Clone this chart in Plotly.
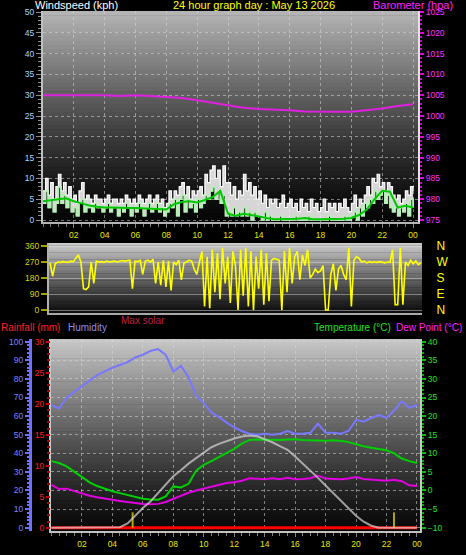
import plotly.graph_objects as go

# ---------------- data ----------------
SAMPLE_10MIN = [i / 6 for i in range(145)]   # sample times (hours), 10-minute log
SAMPLE_30MIN = [i / 2 for i in range(49)]    # sample times (hours), 30-minute log
BARO_HOURS = list(range(25))

hour_ticks = [2, 4, 6, 8, 10, 12, 14, 16, 18, 20, 22, 24]
hour_labels = ["02", "04", "06", "08", "10", "12", "14", "16", "18", "20", "22", "00"]

wind_gust = [
    7, 10, 6, 9, 5, 8,
    11, 7, 9, 6, 8, 5,
    6, 4, 7, 9, 5, 6,
    5, 4, 6, 5, 5, 4,
    5, 6, 4, 5, 5, 4,
    5, 4, 6, 5, 4, 5,
    4, 6, 5, 4, 5, 6,
    4, 5, 6, 4, 5, 3,
    4, 7, 5, 7, 6, 8,
    9, 6, 8, 5, 7, 6,
    7, 8, 6, 11, 9, 12,
    13, 10, 12, 8, 13, 9,
    9, 6, 8, 5, 7, 6,
    11, 7, 9, 6, 8, 5,
    7, 4, 6, 3, 5, 4,
    5, 3, 4, 6, 3, 4,
    5, 3, 4, 2, 5, 3,
    4, 2, 5, 3, 4, 2,
    3, 5, 2, 4, 3, 4,
    2, 4, 3, 5, 3, 2,
    4, 6, 3, 5, 4, 6,
    8, 6, 10, 9, 11, 8,
    9, 7, 9, 8, 6, 5,
    6, 4, 5, 7, 6, 8,
    7,
]

wind_speed = [
    4, 7, 3, 5, 2, 4,
    8, 4, 6, 3, 5, 2,
    3, 1, 4, 5, 2, 3,
    3, 2, 4, 3, 3, 2,
    3, 4, 2, 3, 3, 1,
    3, 2, 4, 3, 1, 3,
    2, 4, 3, 1, 3, 4,
    2, 3, 4, 2, 3, 1,
    2, 4, 3, 5, 1, 5,
    6, 2, 5, 3, 4, 2,
    5, 3, 4, 6, 5, 7,
    8, 5, 7, 4, 6, 1,
    2, 1, 3, 1, 2, 1,
    3, 1, 2, 0, 2, 1,
    1, 0, 2, 0, 1, 0,
    0, 0, 1, 0, 0, 0,
    0, 0, 1, 0, 0, 0,
    0, 1, 0, 0, 0, 0,
    0, 0, 0, 1, 0, 0,
    0, 0, 0, 1, 0, 0,
    1, 2, 0, 3, 1, 4,
    3, 5, 4, 7, 5, 6,
    7, 4, 6, 3, 2, 3,
    1, 3, 2, 4, 1, 5,
    3,
]

wind_avg = [4.5, 4.8, 5.0, 5.2, 4.5, 4.0, 3.5, 3.2, 3.0, 3.0,
            2.9, 2.9, 2.9, 2.8, 2.8, 2.6, 2.5, 3.8, 4.3, 4.5,
            4.2, 4.8, 5.5, 7.0, 1.5, 1.0, 1.5, 1.2, 0.8, 0.5,
            0.2, 0.2, 0.2, 0.3, 0.5, 0.2, 0.2, 0.2, 0.2, 0.3,
            0.5, 1.2, 2.5, 5.0, 7.0, 6.8, 3.0, 3.4, 3.0]

barometer = [1005.0, 1005.0, 1005.0, 1005.0, 1005.0, 1004.8, 1005.0, 1004.8,
             1004.6, 1004.3, 1003.8, 1003.2, 1002.6, 1002.0, 1001.7, 1001.6,
             1001.4, 1001.1, 1001.0, 1001.0, 1001.0, 1001.4, 1001.8, 1002.4, 1002.8]

wind_dir = [
    265, 190, 260, 270, 268, 272,
    270, 268, 275, 272, 290, 310,
    270, 120, 115, 130, 270, 150,
    275, 270, 272, 268, 275, 270,
    272, 275, 270, 273, 278, 275,
    276, 280, 120, 275, 272, 280,
    200, 275, 280, 270, 285, 150,
    270, 140, 280, 130, 275, 110,
    270, 255, 280, 170, 265, 270,
    280, 275, 230, 200, 270, 330,
    20, 300, 10, 340, 100, 320,
    60, 350, 150, 300, 40, 330,
    250, 0, 340, 80, 350, 20,
    330, 0, 300, 120, 340, 30,
    320, 50, 280, 290, 285, 280,
    0, 330, 100, 350, 150, 300,
    330, 170, 310, 250, 340, 180,
    200, 230, 210, 220, 250, 0,
    0, 200, 260, 110, 230, 250,
    200, 170, 350, 20, 280, 300,
    290, 270, 275, 265, 272, 268,
    270, 268, 272, 270, 265, 270,
    268, 340, 30, 30, 350, 30,
    270, 250, 280, 260, 275, 255,
    265,
]

humidity = [66, 64, 70, 73, 76, 79, 82, 84, 86, 87.5,
            89, 91.5, 93, 95, 96, 93, 84, 87, 81, 71,
            67, 62, 59.5, 56.5, 54, 52, 50.5, 50, 50.5, 50,
            50.5, 52, 50.5, 50.5, 51, 56, 51, 51, 50.5, 52,
            58, 57, 59, 60.5, 59, 63, 68, 64.5, 66]

temperature = [7.9, 7.4, 6.5, 5.0, 3.6, 2.2, 1.2, 0.4, -0.2, -0.7,
               -1.2, -1.7, -2.2, -2.4, -2.5, -1.6, 1.1, 0.8, 1.8, 5.3,
               6.9, 7.9, 9.0, 10.2, 11.2, 12.6, 13.6, 13.7, 13.6, 13.6,
               13.6, 13.7, 13.8, 13.6, 13.5, 13.3, 13.4, 13.5, 13.4, 13.0,
               12.4, 11.9, 11.5, 11.2, 10.8, 10.0, 8.6, 7.9, 7.4]

dew_point = [1.5, 0.4, 0.5, -0.2, -0.8, -1.4, -1.8, -2.2, -2.5, -2.8,
             -3.1, -3.4, -3.6, -3.7, -3.6, -3.1, -2.2, -1.4, -0.6, 0.0,
             0.5, 0.9, 1.5, 2.0, 2.2, 2.6, 3.3, 3.2, 3.0, 3.3,
             3.0, 3.4, 3.0, 3.1, 3.3, 4.0, 3.2, 3.1, 3.0, 3.2,
             3.6, 3.1, 3.0, 2.7, 2.6, 2.9, 2.5, 1.4, 1.2]

max_solar = [0, 0, 0, 0, 0, 0, 0, 0, 0, 5,
             40, 110, 180, 240, 320, 395, 470, 525, 585, 635,
             685, 735, 765, 790, 815, 832, 842, 835, 810, 780,
             745, 712, 650, 585, 525, 455, 385, 315, 250, 175,
             110, 55, 18, 0, 0, 0, 0, 0, 0]

rainfall = [0, 0, 0, 0, 0, 0, 0, 0, 0, 0,
            0, 0, 0, 0, 0, 0, 0, 0, 0, 0,
            0, 0, 0, 0, 0, 0, 0, 0, 0, 0,
            0, 0, 0, 0, 0, 0, 0, 0, 0, 0,
            0, 0, 0, 0, 0, 0, 0, 0, 0]

sun_mark_hours = [5.33, 22.49]
sun_mark_values = [140, 140]

compass_vals = [360, 270, 180, 90, 0]
compass_text = ["N", "W", "S", "E", "N"]

# ---------------- layout helpers ----------------
W, H = 466, 555
FONT = "Liberation Sans, Arial, sans-serif"


def px_x(p):
    return p / W


def px_y(p):
    return 1 - p / H


def gradient(xref, yref, top, bottom, n=50, gamma=1.0):
    shapes = []
    for k in range(n):
        f = k / (n - 1)
        w = (1 - f) ** gamma
        c = [round(bottom[j] + (top[j] - bottom[j]) * w) for j in range(3)]
        shapes.append(dict(
            type="rect", xref=xref + " domain", yref=yref + " domain",
            x0=0, x1=1, y0=max(0, 1 - (k + 1) / n - 0.003), y1=1 - k / n,
            fillcolor="rgb(%d,%d,%d)" % tuple(c), line=dict(width=0), layer="below"))
    return shapes


GRID = "rgba(215,215,215,0.55)"
TICKF = dict(family=FONT, size=8.5)

fig = go.Figure()

# ---- top panel: wind & barometer ----
fig.add_trace(go.Scatter(x=SAMPLE_10MIN, y=wind_speed, mode="lines", xaxis="x", yaxis="y",
                         line=dict(color="#bdf2bd", width=1.5, shape="hv"), hoverinfo="skip"))
fig.add_trace(go.Scatter(x=SAMPLE_10MIN, y=wind_gust, mode="lines", xaxis="x", yaxis="y",
                         fill="tonexty", fillcolor="rgba(242,242,242,0.88)",
                         line=dict(color="#ffffff", width=1.2, shape="hv"), hoverinfo="skip"))
fig.add_trace(go.Scatter(x=SAMPLE_10MIN, y=wind_speed, mode="lines", xaxis="x", yaxis="y",
                         line=dict(color="rgba(180,240,180,0.9)", width=1.4, shape="hv"), hoverinfo="skip"))
fig.add_trace(go.Scatter(x=SAMPLE_30MIN, y=wind_avg, mode="lines", xaxis="x", yaxis="y",
                         line=dict(color="#00c800", width=2), hoverinfo="skip"))
fig.add_trace(go.Scatter(x=BARO_HOURS, y=barometer, mode="lines", xaxis="x", yaxis="y2",
                         line=dict(color="#e020e0", width=2), hoverinfo="skip"))

# ---- middle panel: wind direction ----
fig.add_trace(go.Scatter(x=SAMPLE_10MIN, y=wind_dir, mode="lines", xaxis="x2", yaxis="y3",
                         line=dict(color="#ffff00", width=1.6), hoverinfo="skip"))
fig.add_trace(go.Scatter(x=SAMPLE_10MIN, y=wind_dir, mode="lines", xaxis="x2", yaxis="y4",
                         opacity=0, line=dict(width=0), hoverinfo="skip"))

# ---- bottom panel ----
fig.add_trace(go.Scatter(x=SAMPLE_30MIN, y=temperature, mode="lines", xaxis="x3", yaxis="y5",
                         line=dict(color="#00d000", width=2), hoverinfo="skip"))
fig.add_trace(go.Scatter(x=SAMPLE_30MIN, y=dew_point, mode="lines", xaxis="x3", yaxis="y5",
                         line=dict(color="#e000e0", width=2), hoverinfo="skip"))
fig.add_trace(go.Scatter(x=SAMPLE_30MIN, y=humidity, mode="lines", xaxis="x3", yaxis="y6",
                         line=dict(color="#7878ff", width=2), hoverinfo="skip"))
fig.add_trace(go.Scatter(x=SAMPLE_30MIN, y=rainfall, mode="lines", xaxis="x3", yaxis="y7",
                         line=dict(color="#ff0000", width=3), hoverinfo="skip"))
fig.add_trace(go.Scatter(x=SAMPLE_30MIN, y=max_solar, mode="lines", xaxis="x3", yaxis="y8",
                         line=dict(color="rgba(215,215,215,0.7)", width=2), hoverinfo="skip"))
fig.add_trace(go.Bar(x=sun_mark_hours, y=sun_mark_values, xaxis="x3", yaxis="y8", width=0.13,
                     marker=dict(color="#b8a800", line=dict(width=0)), hoverinfo="skip"))

# ---------------- axes ----------------
common_x = dict(tickmode="array", tickvals=hour_ticks, ticktext=hour_labels,
                tickfont=dict(TICKF, color="#e6e600"), ticks="outside", ticklen=4,
                tickcolor="#808080", zeroline=False, automargin=False, fixedrange=True,
                minor=dict(tickmode="linear", tick0=0, dtick=0.5, ticks="outside",
                           ticklen=3, tickcolor="#808080", showgrid=False))

layout = dict(
    width=W, height=H, autosize=False, template="none",
    margin=dict(l=0, r=0, t=0, b=0, pad=0),
    paper_bgcolor="#000000", plot_bgcolor="#000000",
    showlegend=False, barmode="overlay",
    font=dict(family=FONT, color="#ffffff"),
    # top panel
    xaxis=dict(common_x, domain=[px_x(43), px_x(418)], range=[0, 24.32], anchor="y",
               showgrid=True, gridcolor=GRID, griddash="dot", gridwidth=1,
               showline=True, linecolor="#b4b4b4", linewidth=2),
    yaxis=dict(domain=[px_y(222), px_y(11)], range=[-0.48, 50.24], anchor="x",
               tickmode="linear", tick0=0, dtick=5, tickfont=dict(TICKF, color="#a8d4ff"),
               ticks="outside", ticklen=5, tickcolor="#909090",
               minor=dict(tickmode="linear", tick0=0, dtick=1, ticks="outside", ticklen=3,
                          tickcolor="#909090", showgrid=False),
               showgrid=True, gridcolor=GRID, griddash="dot", gridwidth=1,
               showline=True, linecolor="#c0c0c0", linewidth=2, zeroline=False,
               automargin=False, fixedrange=True),
    yaxis2=dict(overlaying="y", side="right", anchor="x", range=[974.52, 1025.24],
                tickmode="linear", tick0=975, dtick=5, tickfont=dict(TICKF, color="#ff30ff"),
                ticks="outside", ticklen=4, tickwidth=2, tickcolor="#e000e0",
                minor=dict(tickmode="linear", tick0=975, dtick=1, ticks="outside", ticklen=2,
                           tickwidth=2, tickcolor="#d000d0", showgrid=False),
                showgrid=False, showline=True, linecolor="#e6e6e6", linewidth=2,
                zeroline=False, automargin=False, fixedrange=True),
    # middle panel
    xaxis2=dict(domain=[px_x(49), px_x(422)], range=[-0.065, 24.07], anchor="y3",
                showticklabels=False, ticks="", showgrid=False, zeroline=False,
                showline=True, linecolor="#a8a8a8", linewidth=2, automargin=False, fixedrange=True),
    yaxis3=dict(domain=[px_y(313), px_y(243)], range=[-16.9, 376.9], anchor="x2",
                tickmode="array", tickvals=[0, 90, 180, 270, 360],
                tickfont=dict(TICKF, color="#d4d400"), ticks="outside", ticklen=6,
                tickwidth=2, tickcolor="#a0a000",
                showgrid=True, gridcolor="rgba(230,230,230,0.45)", gridwidth=1,
                showline=True, linecolor="#b0b0b0", linewidth=2, zeroline=False,
                automargin=False, fixedrange=True),
    yaxis4=dict(overlaying="y3", side="right", anchor="x2", range=[-16.9, 376.9],
                tickmode="array", tickvals=compass_vals, ticktext=compass_text,
                tickfont=dict(family=FONT, size=12, color="#ffff00"), ticks="outside",
                ticklen=11, tickcolor="rgba(0,0,0,0)", showgrid=False, showline=False,
                zeroline=False, automargin=False, fixedrange=True),
    # bottom panel
    xaxis3=dict(common_x, domain=[px_x(51), px_x(420)], range=[-0.03, 24.2], anchor="y5",
                showgrid=True, gridcolor=GRID, griddash="dot", gridwidth=1,
                showline=True, linecolor="#c0c0c0", linewidth=2),
    yaxis5=dict(domain=[px_y(531), px_y(339)], range=[-10.89, 40.73], anchor="x3", side="right",
                tickmode="linear", tick0=-10, dtick=5, tickfont=dict(TICKF, color="#20e020"),
                ticks="outside", ticklen=4, tickwidth=2, tickcolor="#00c000",
                minor=dict(tickmode="linear", tick0=-10, dtick=1, ticks="outside", ticklen=2,
                           tickwidth=2, tickcolor="#00b000", showgrid=False),
                showgrid=True, gridcolor=GRID, griddash="dot", gridwidth=1,
                showline=True, mirror=True, linecolor="#c8c8c8", linewidth=2, zeroline=False,
                automargin=False, fixedrange=True),
    yaxis6=dict(overlaying="y5", side="left", anchor="free", position=px_x(30),
                range=[-1.78, 101.46], tickmode="linear", tick0=0, dtick=10,
                tickfont=dict(TICKF, color="#8080ff"), ticks="outside", ticklen=4,
                tickwidth=2, tickcolor="#7070ff",
                minor=dict(tickmode="linear", tick0=0, dtick=2, ticks="outside", ticklen=2,
                           tickwidth=2, tickcolor="#7070ff", showgrid=False),
                showgrid=False, showline=True, linecolor="#7070ff", linewidth=3,
                zeroline=False, automargin=False, fixedrange=True),
    yaxis7=dict(overlaying="y5", side="left", anchor="free", position=px_x(50),
                range=[-0.53, 30.44], tickmode="linear", tick0=0, dtick=5,
                tickfont=dict(TICKF, color="#ff2020"), ticks="outside", ticklen=4,
                tickwidth=2, tickcolor="#d00000",
                minor=dict(tickmode="linear", tick0=0, dtick=1, ticks="outside", ticklen=3,
                           tickwidth=2, tickcolor="#b00000", showgrid=False),
                showgrid=False, showline=False, zeroline=False, automargin=False, fixedrange=True),
    yaxis8=dict(overlaying="y5", anchor="x3", range=[-30, 1723], visible=False, fixedrange=True),
)

shapes = []
shapes += gradient("x", "y", (180, 180, 180), (6, 6, 6), gamma=1.3)
shapes += gradient("x2", "y3", (202, 202, 202), (14, 14, 14), n=30, gamma=1.1)
shapes += gradient("x3", "y5", (198, 198, 198), (8, 8, 8), gamma=1.2)
layout["shapes"] = shapes


def label(text, x, y, color, size=11):
    return dict(text=text, x=px_x(x), y=px_y(y), xref="paper", yref="paper",
                xanchor="left", yanchor="middle", showarrow=False,
                font=dict(family=FONT, size=size, color=color))


layout["annotations"] = [
    label("Windspeed (kph)", 33, 5, "#ffffff"),
    label("24 hour graph day : May 13 2026", 171, 5, "#ffff00"),
    label("Barometer (hpa)", 371, 5, "#ff20ff"),
    label("Rainfall (mm)", -1, 327, "#ff2020", 10),
    label("Humidity", 66, 327, "#8c8cff", 10),
    label("Max solar", 119, 320, "#b8204c", 10),
    label("Temperature (°C)", 312, 327, "#20e020", 10),
    label("Dew Point (°C)", 394, 327, "#ff20ff", 10),
]

fig.update_layout(**layout)
fig.write_html(
    "out.html",
    config={"displayModeBar": False, "staticPlot": True},
    post_script="document.body.style.margin='0px';document.body.style.overflow='hidden';",
)
